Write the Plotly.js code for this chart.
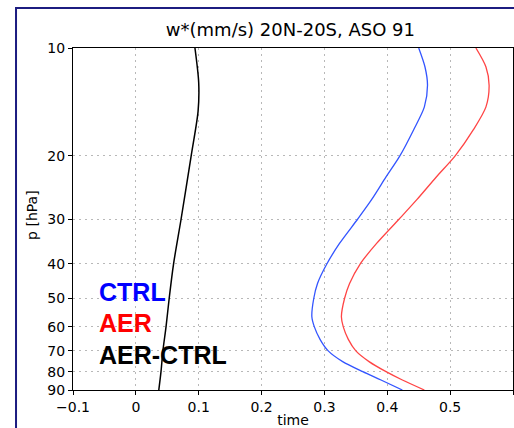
<!DOCTYPE html>
<html>
<head>
<meta charset="utf-8">
<script src="https://cdn.plot.ly/plotly-3.0.1.min.js"></script>
<style>html,body{margin:0;padding:0;background:#fff;}#chart{width:514px;height:428px;}</style>
</head>
<body>
<div id="chart"></div>
<script>
// Pressure levels (hPa)
const pLevels = [10, 11.3, 12.7, 14.6, 16.9, 20, 22.9, 26.5, 30, 35.1, 40, 45.4, 50, 56.2, 60, 65, 70, 75, 80, 84.4, 90];
// w* (mm/s)
const ctrl = [0.450, 0.460, 0.464, 0.459, 0.442, 0.420, 0.398, 0.375, 0.353, 0.324, 0.304, 0.289, 0.283, 0.280, 0.284, 0.293, 0.306, 0.329, 0.361, 0.390, 0.424];
const aer  = [0.541, 0.557, 0.562, 0.557, 0.537, 0.508, 0.478, 0.447, 0.419, 0.383, 0.357, 0.340, 0.332, 0.327, 0.330, 0.338, 0.350, 0.371, 0.398, 0.424, 0.459];
const pDiff = [10, 12.5, 15, 20, 30, 40, 50, 60, 70, 80, 90];
const diff  = [0.094, 0.100, 0.0990, 0.088, 0.072, 0.060, 0.053, 0.048, 0.043, 0.040, 0.0365];

const yTicks = [10, 20, 30, 40, 50, 60, 70, 80, 90];
const yTickText = ["10", "20", "30", "40", "50", "60", "70", "80", "90"];
const seriesNames = ["CTRL", "AER", "AER-CTRL"];
const seriesColors = ["#0000ff", "#ff0000", "#000000"];

const traces = [
  {x: ctrl, y: pLevels, name: seriesNames[0], mode: "lines", line: {color: "#3355ff", width: 1.3, shape: "spline", smoothing: 0.8}},
  {x: aer, y: pLevels, name: seriesNames[1], mode: "lines", line: {color: "#ff4444", width: 1.3, shape: "spline", smoothing: 0.8}},
  {x: diff, y: pDiff, name: seriesNames[2], mode: "lines", line: {color: "#000000", width: 1.5, shape: "spline", smoothing: 0.8}}
];

const tfont = {family: "DejaVu Sans, sans-serif", size: 14, color: "#000"};
const legendY = [0.2865, 0.196, 0.1023];
const annotations = seriesNames.map((n, i) => ({
  text: "<b>" + n + "</b>", xref: "paper", yref: "paper", x: 0.0545, y: legendY[i],
  xanchor: "left", yanchor: "middle", showarrow: false,
  font: {family: "Liberation Sans, Arial, sans-serif", size: 25, color: seriesColors[i]}
}));
annotations.push({text: "p [hPa]", xref: "paper", yref: "paper", x: -0.0932, y: 0.512,
  xanchor: "center", yanchor: "middle", textangle: -90, showarrow: false, font: tfont});

const layout = {
  width: 514, height: 428,
  margin: {l: 73, r: 1, t: 48, b: 38, pad: 0},
  paper_bgcolor: "#fff", plot_bgcolor: "#fff",
  showlegend: false,
  font: tfont,
  title: {text: "w*(mm/s) 20N-20S, ASO 91", x: 0.565, xanchor: "center", y: 0.93, yanchor: "middle", font: {family: "DejaVu Sans, sans-serif", size: 18, color: "#000"}},
  xaxis: {
    range: [-0.1, 0.6], dtick: 0.1, tick0: 0,
    showgrid: true, gridcolor: "#b8b8b8", griddash: "2px,4px", gridwidth: 1,
    zeroline: false, showline: true, linecolor: "#000", linewidth: 1, mirror: true,
    ticks: "outside", ticklen: 4, tickcolor: "#000",
    tickfont: tfont,
    title: {text: "time", standoff: 1, font: tfont}
  },
  yaxis: {
    type: "log", range: [Math.log10(90), 1],
    tickvals: yTicks, ticktext: yTickText,
    showgrid: true, gridcolor: "#b8b8b8", griddash: "2px,4px", gridwidth: 1,
    zeroline: false, showline: true, linecolor: "#000", linewidth: 1, mirror: true,
    ticks: "outside", ticklen: 4, tickcolor: "#000",
    tickfont: tfont
  },
  annotations: annotations,
  shapes: [{type: "rect", xref: "paper", yref: "paper", x0: -0.1295, x1: 2, y0: -1, y1: 1.117,
            line: {color: "#1c1c80", width: 2}, fillcolor: "rgba(0,0,0,0)", layer: "below"}]
};

Plotly.newPlot("chart", traces, layout, {staticPlot: true, displayModeBar: false});
</script>
</body>
</html>
